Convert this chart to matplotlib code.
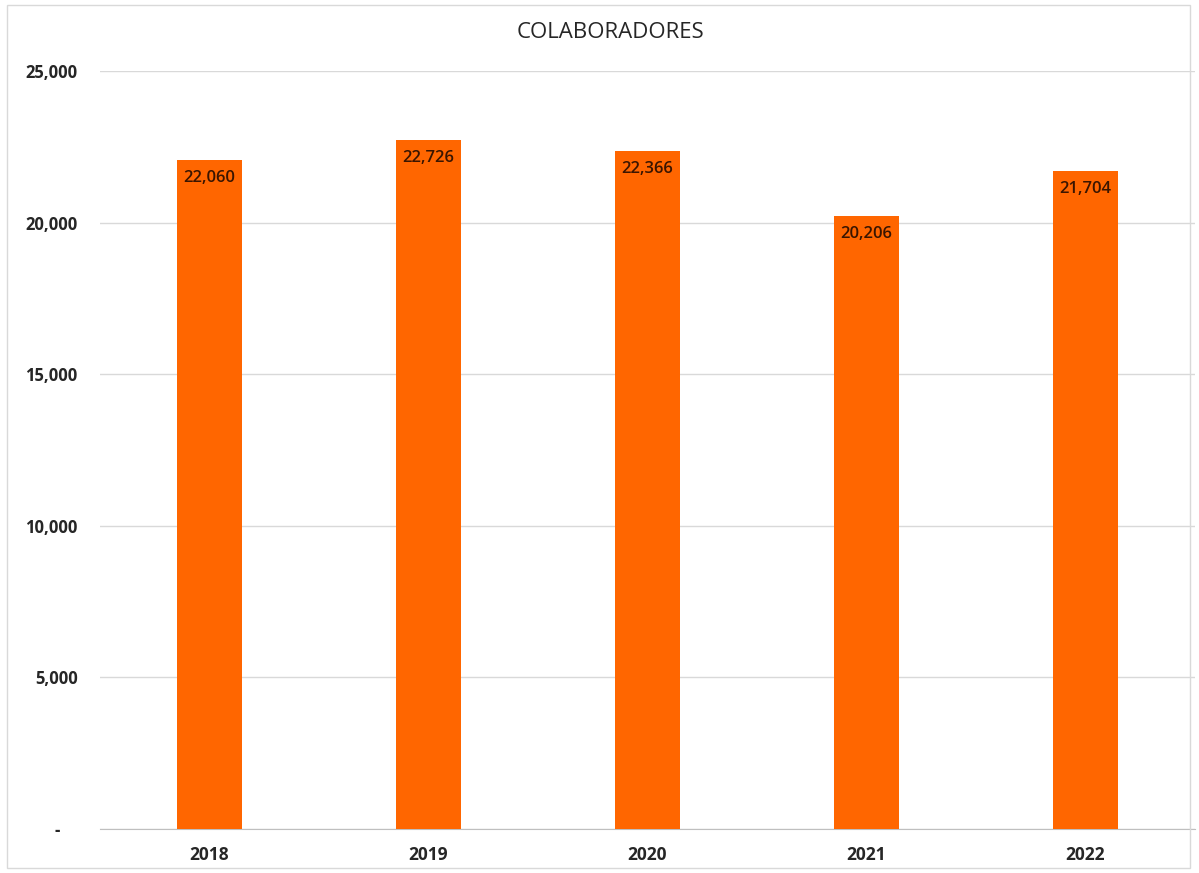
import matplotlib.pyplot as plt
from matplotlib.patches import Rectangle

# datos
years = ['2018', '2019', '2020', '2021', '2022']
colaboradores = [22060, 22726, 22366, 20206, 21704]
y_ticks = [0, 5000, 10000, 15000, 20000, 25000]
y_labels = ['-    ', '5,000', '10,000', '15,000', '20,000', '25,000']

plt.rcParams['font.family'] = ['Open Sans', 'DejaVu Sans']

fig = plt.figure(figsize=(11.99, 8.73), dpi=100)
ax = fig.add_axes([100 / 1199, 44 / 873, 1095 / 1199, 758 / 873])

x = list(range(len(years)))
ax.bar(x, colaboradores, width=0.30, color='#FF6600', zorder=3)

# etiquetas dentro de las barras
for xi, v in zip(x, colaboradores):
    ax.text(xi, v - 330, f'{v:,}', ha='center', va='top', fontsize=12,
            fontweight='semibold', color='#3a1500', zorder=4)

ax.set_xlim(-0.5, 4.5)
ax.set_ylim(0, 25000)
ax.set_xticks(x)
ax.set_xticklabels(years, fontsize=12.5, fontweight='bold', color='#262626')
ax.set_yticks(y_ticks)
ax.set_yticklabels(y_labels, fontsize=12, fontweight='bold', color='#262626')
ax.tick_params(axis='both', length=0)
ax.tick_params(axis='y', pad=16)
ax.tick_params(axis='x', pad=12)

ax.grid(axis='y', color='#d9d9d9', linewidth=1, zorder=0)
for side in ['top', 'right', 'left']:
    ax.spines[side].set_visible(False)
ax.spines['bottom'].set_color('#bfbfbf')

fig.text(610 / 1199, 1 - 33 / 873, 'COLABORADORES', ha='center', va='center',
         fontsize=16, color='#262626')

# borde del gráfico
fig.patches.append(Rectangle((7 / 1199, 5 / 873), 1183 / 1199, 863 / 873,
                             transform=fig.transFigure, fill=False,
                             edgecolor='#d9d9d9', linewidth=1))

fig.savefig('out.png', dpi=100)
